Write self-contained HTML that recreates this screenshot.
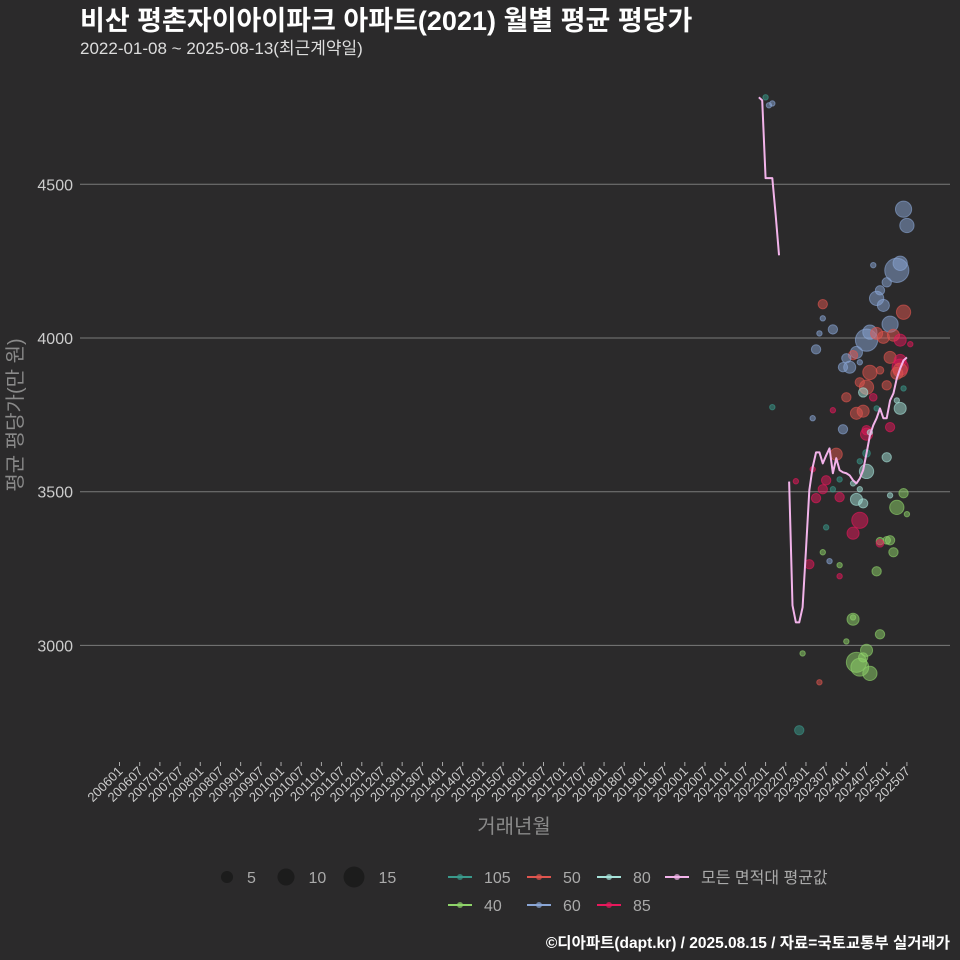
<!DOCTYPE html>
<html><head><meta charset="utf-8"><style>
html,body{margin:0;padding:0;background:#2b2a2b;}
svg{display:block;font-family:"Liberation Sans","Noto Sans CJK KR",sans-serif;}
</style></head><body>
<svg id="chart" width="960" height="960" viewBox="0 0 960 960">
<rect x="0" y="0" width="960" height="960" fill="#2b2a2b"/>
<text x="80" y="30" fill="#ffffff" font-size="27" font-weight="bold">비산 평촌자이아이파크 아파트(2021) 월별 평균 평당가</text>
<text x="80" y="54" fill="#dddddd" font-size="17">2022-01-08 ~ 2025-08-13(최근계약일)</text>
<g id="grid"></g>
<g id="yaxis"></g>
<g id="xaxis"></g>
<g id="bubbles"></g>
<g id="lines"></g>
<text transform="translate(22,415) rotate(-90)" text-anchor="middle" fill="#8a8a8a" font-size="20">평균 평당가(만 원)</text>
<text x="514" y="833" text-anchor="middle" fill="#8a8a8a" font-size="20">거래년월</text>
<g id="legend"></g>
<text x="950" y="948" text-anchor="end" fill="#ffffff" font-size="15.5" font-weight="bold">©디아파트(dapt.kr) / 2025.08.15 / 자료=국토교통부 실거래가</text>
</svg>
<script>
const yTicks = [3000, 3500, 4000, 4500];
const lineSeg1Months = ["202111","202112","202201","202202","202203","202204","202205"];
const lineSeg1Values = [4783,4773,4520,4520,4520,4400,4269];
const lineSeg2Months = ["202208","202209","202210","202211","202212","202301","202302","202303","202304","202305","202306","202307","202308","202309","202310","202311","202312","202401","202402","202403","202404","202405","202406","202407","202408","202409","202410","202411","202412","202501","202502","202503","202504","202505","202506","202507"];
const lineSeg2Values = [3533,3130,3075,3075,3124,3310,3505,3580,3628,3628,3592,3618,3641,3560,3609,3570,3563,3560,3553,3537,3527,3543,3570,3625,3683,3716,3739,3771,3739,3739,3797,3820,3869,3901,3927,3937];
const bubbleMonth = ["202201","202203","202202","202203","202506","202507","202409","202504","202505","202501","202411","202410","202412","202306","202506","202306","202309","202305","202502","202407","202408","202410","202412","202503","202505","202508","202304","202404","202403","202401","202312","202402","202405","202502","202505","202505","202505","202504","202408","202411","202405","202407","202501","202406","202409","202401","202506","202309","202303","202404","202406","202410","202505","202504","202312","202407","202502","202407","202408","202407","202501","202310","202303","202405","202407","202307","202311","202403","202210","202306","202309","202405","202304","202311","202404","202406","202502","202506","202504","202507","202307","202405","202403","202411","202502","202501","202411","202503","202306","202308","202311","202302","202311","202410","202403","202403","202411","202401","202212","202404","202405","202407","202408","202406","202305","202211"];
const bubbleValue = [4783,4763,4757,3775,4419,4366,4237,4220,4243,4181,4155,4129,4106,4110,4084,4064,4028,4015,4045,3993,4019,4015,4002,4009,3993,3980,3963,3953,3944,3934,3905,3905,3921,3937,3927,3905,3895,3885,3888,3895,3856,3840,3846,3823,3807,3807,3836,3765,3739,3755,3762,3771,3771,3797,3703,3700,3710,3687,3693,3625,3612,3622,3573,3599,3566,3537,3540,3527,3534,3508,3508,3508,3479,3482,3475,3462,3488,3495,3449,3427,3384,3407,3365,3339,3342,3342,3332,3303,3303,3274,3261,3264,3225,3241,3085,3091,3036,3013,2974,2945,2929,2984,2909,2961,2880,2724];
const bubbleCount = [1,1,1,1,9,7,1,20,7,3,3,7,5,3,7,1,3,1,9,17,7,5,5,5,5,1,3,5,3,3,3,5,1,5,5,9,7,5,7,2,3,7,3,3,2,3,1,1,1,5,5,1,5,1,3,3,3,5,1,2,3,5,1,1,7,3,1,1,1,3,1,1,3,3,5,3,1,3,7,1,1,9,5,2,3,2,2,3,1,1,1,3,1,3,5,1,3,1,1,14,11,5,7,3,1,3];
const bubbleArea = ["105","60","60","105","60","60","60","60","60","60","60","60","60","50","50","60","60","60","60","60","60","50","50","50","85","85","60","60","50","60","60","60","60","50","85","85","50","50","50","50","50","50","50","80","85","50","105","85","60","50","50","105","80","80","60","85","85","85","80","105","80","50","85","105","80","85","105","80","85","85","105","80","85","85","80","80","80","40","40","40","105","85","85","40","40","40","85","40","40","60","40","85","85","40","40","40","40","40","40","40","40","40","40","40","50","105"];
const areaKeys = ["105","50","80","40","60","85"];
const areaColors = ["#3a9a8c","#e0554f","#a6e3da","#8fd46a","#8aa6d6","#e8185c"];
const sizeLegendValues = [5,10,15];

const NS="http://www.w3.org/2000/svg";
function mk(tag,attrs,parent){const e=document.createElementNS(NS,tag);for(const k in attrs)e.setAttribute(k,attrs[k]);parent.appendChild(e);return e;}
function monthIndex(s){return (parseInt(s.slice(0,4))-2006)*12+parseInt(s.slice(4,6))-1;}
function xScale(s){return 119.5+monthIndex(s)*3.365;}
function yScale(v){return 338-(v-4000)*153.7/500;}
function rScale(n){return 2.7*Math.sqrt(n);}
function colorOf(a){return areaColors[areaKeys.indexOf(a)];}

const grid=document.getElementById('grid'), yaxis=document.getElementById('yaxis');
yTicks.forEach(t=>{
  const g=mk('line',{x1:80,x2:950,y1:yScale(t),y2:yScale(t),stroke:'#7a7a7a','stroke-width':1},grid);
  
  
  const tx=mk('text',{x:73,y:yScale(t)+6,'text-anchor':'end',fill:'#cccccc','font-size':16},yaxis);
  tx.textContent=t;
  
  
});
const xaxis=document.getElementById('xaxis');
const xTickLabels=[];
for(let y=2006;y<=2025;y++){xTickLabels.push(y+"01");xTickLabels.push(y+"07");}
xTickLabels.forEach(l=>{
  const x=xScale(l);
  const tk=mk('line',{x1:x,x2:x,y1:762,y2:766,stroke:'#aaaaaa','stroke-width':1},xaxis);
  
  
  const tx=mk('text',{x:x+4,y:772,'text-anchor':'end',fill:'#cccccc','font-size':13,transform:'rotate(-45 '+(x+4)+' 772)'},xaxis);
  tx.textContent=l;
  
  
});
const bl=document.getElementById('bubbles');
bubbleMonth.forEach((m,i)=>{
  const c=colorOf(bubbleArea[i]);
  const b=mk('circle',{cx:xScale(m),cy:yScale(bubbleValue[i]),r:rScale(bubbleCount[i]),fill:c,'fill-opacity':0.5,stroke:c,'stroke-opacity':0.6,'stroke-width':1},bl);
  
  
});
const ll=document.getElementById('lines');
[[lineSeg1Months,lineSeg1Values],[lineSeg2Months,lineSeg2Values]].forEach((s,k)=>{
  const pts=s[0].map((m,i)=>xScale(m)+','+yScale(s[1][i])).join(' ');
  const p=mk('polyline',{points:pts,fill:'none',stroke:'#f2b3ea','stroke-width':2,'stroke-linejoin':'round'},ll);
  
  
});
const lg=document.getElementById('legend');
const sizeX=[227,286,354];
sizeLegendValues.forEach((v,i)=>{
  const c=mk('circle',{cx:sizeX[i],cy:877,r:rScale(v),fill:'#1c1c1c'},lg);
  
  
  const t=mk('text',{x:sizeX[i]+rScale(v)+14,y:883,fill:'#aaaaaa','font-size':16},lg);
  t.textContent=v;
  
  
});
const legendKeys=["105","50","80","모든 면적대 평균값","40","60","85"];
const legendCols=["#3a9a8c","#e0554f","#a6e3da","#f2b3ea","#8fd46a","#8aa6d6","#e8185c"];
const lx=[448,527,597,665,448,527,597], ly=[877,877,877,877,905,905,905];
legendKeys.forEach((k,i)=>{
  const g=mk('g',{},lg);
  
  
  mk('line',{x1:lx[i],x2:lx[i]+24,y1:ly[i],y2:ly[i],stroke:legendCols[i],'stroke-width':2},g);
  mk('circle',{cx:lx[i]+12,cy:ly[i],r:3,fill:legendCols[i],'fill-opacity':0.7},g);
  const t=mk('text',{x:lx[i]+36,y:ly[i]+6,fill:'#aaaaaa','font-size':16},g);
  t.textContent=k;
});
</script>
</body></html>
